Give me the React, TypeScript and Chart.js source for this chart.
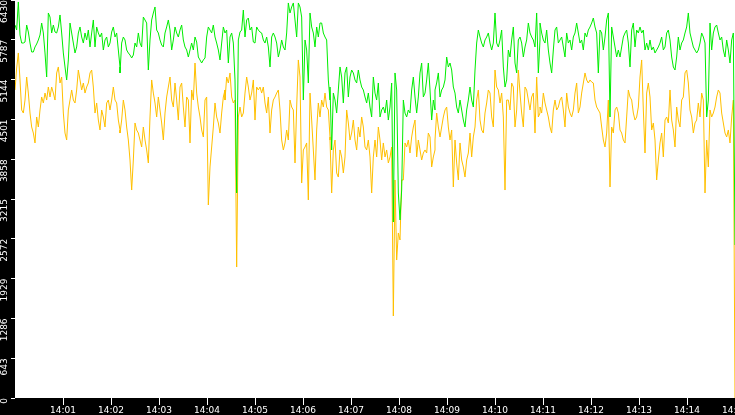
import React, { useEffect, useRef } from "react";
import { Chart, registerables } from "chart.js";

Chart.register(...registerables);

// Readings are sampled every 25/12 s; the trace is stored in 7 consecutive runs.
const START_HOUR = 14;
const RANGE_SECONDS = 900;
const SAMPLE_STEP_SECONDS = 25 / 12;
const RUN_START_SECONDS = [0, 131.25, 262.5, 393.75, 525, 656.25, 781.25];
const Y_TICK_STEP = 643;
const Y_MAX = 6430;

const greenA = [6026, 5945, 6398, 5865, 5735, 5735, 5751, 6026, 5913, 5735, 5590, 5590, 5671, 5719, 5784, 5865, 6058, 5897, 5574, 5186, 6220, 6155, 5897, 6026, 5913, 5897, 5994, 6188, 5897, 5574, 5348, 5138, 5461, 6058, 5897, 5735, 5574, 5671, 5897, 5994, 5832, 5735, 5897, 5784, 5945, 5671, 5897, 6107, 5671, 5994, 5897, 5832, 5897, 5622, 5784, 5832, 5671, 5735, 5913, 5994, 5832, 5897, 5622, 5348];
const greenB = [5251, 5735, 5832, 5784, 5622, 5574, 5541, 5493, 5541, 5735, 5671, 5897, 5735, 5671, 6155, 6107, 6058, 5299, 5784, 6107, 6220, 6317, 5945, 5897, 5784, 5703, 5671, 5897, 5994, 6107, 5945, 5622, 5784, 5994, 5897, 5832, 5945, 6026, 5784, 5671, 5622, 5509, 5622, 5735, 5622, 5832, 5751, 5509, 5461, 5412, 5461, 5493, 5832, 5994, 5945, 5897, 6026, 5832, 5735, 5622, 5461, 5735, 5994, 5897];
const greenC = [5897, 5945, 5412, 5832, 5897, 5735, 5138, 3312, 5784, 5913, 5945, 6268, 5832, 6107, 6139, 5945, 5994, 5751, 5735, 5994, 5945, 5913, 5897, 5784, 5735, 5832, 5671, 5348, 5832, 5897, 5832, 5735, 5509, 5622, 5784, 5671, 5622, 5897, 6382, 6220, 6317, 6382, 6107, 5832, 6382, 6317, 6155, 4814, 5784, 5622, 5089, 6220, 5994, 5897, 5671, 5994, 5832, 6058, 6058, 5897, 5832, 5784, 5138, 4814];
const greenD = [5024, 4007, 4927, 4814, 4604, 4976, 5348, 5186, 4766, 5251, 5348, 4863, 5186, 5299, 5251, 5138, 5089, 5299, 5138, 5024, 4976, 4863, 4766, 4927, 4701, 4540, 5186, 4927, 4814, 5089, 4540, 4653, 4701, 4604, 4814, 4491, 4701, 5089, 2843, 5251, 4976, 3312, 2876, 3360, 4814, 4604, 4540, 4653, 4604, 4976, 5186, 4863, 4604, 4863, 5251, 5412, 4863, 4927, 5138, 5412, 4976, 4491, 4814, 4653];
const greenE = [4976, 5089, 5251, 4863, 4976, 5024, 5138, 5509, 5348, 5412, 5299, 5024, 4927, 4701, 4604, 4814, 4653, 4491, 4378, 4653, 4814, 5024, 4814, 4701, 5299, 5735, 5945, 5832, 5735, 5671, 5784, 5832, 5897, 5735, 5622, 5735, 6220, 5735, 5671, 5784, 5945, 5348, 5024, 5138, 5622, 5509, 5784, 5994, 5412, 5251, 5784, 5832, 5735, 5509, 5671, 5784, 6058, 5897, 5832, 5784, 5671, 6220, 5251, 5784];
const greenF = [6058, 5897, 5784, 5735, 5945, 5622, 5412, 5251, 5622, 5945, 5994, 5735, 5784, 5832, 5671, 5509, 5897, 5735, 5784, 5622, 5832, 5897, 6058, 5897, 5735, 5784, 5622, 5897, 5832, 5945, 5994, 6058, 6139, 5994, 5897, 5251, 5945, 5897, 5622, 5832, 6107, 6220, 4540, 5994, 5832, 5671, 5509, 5622, 5509, 5671, 5832, 5897, 5945, 5735, 5348, 5945, 6058, 5671, 5945, 5897];
const greenG = [5994, 5897, 5945, 5622, 5735, 5622, 5784, 5622, 5671, 5574, 5622, 5671, 5735, 5832, 5622, 5671, 5897, 5945, 5784, 5509, 5348, 5299, 5509, 5832, 5622, 5735, 5784, 5897, 5994, 6220, 5897, 5784, 5671, 5622, 5574, 5622, 5735, 5897, 5832, 5735, 4540, 4814, 6058, 5622, 5897, 5994, 6026, 5897, 5784, 5832, 5622, 5509, 5784, 5622, 5412, 5784, 5897, 2472];

const yellowA = [4976, 5331, 5574, 5138, 4653, 4604, 4814, 5186, 4927, 4604, 4378, 4281, 4120, 4540, 4378, 4653, 4863, 4766, 4927, 4814, 5024, 4863, 5024, 4927, 4814, 5251, 5348, 5089, 5186, 4604, 4281, 4168, 4653, 4814, 4976, 4814, 4766, 4976, 5299, 5138, 4976, 5089, 4927, 5024, 5089, 5251, 5299, 5024, 4604, 4766, 4491, 4330, 4653, 4540, 4378, 4766, 4814, 4653, 4814, 5024, 4814, 4766, 4491, 4330];
const yellowB = [4281, 4491, 4814, 4653, 4378, 4168, 3845, 3360, 3845, 4443, 4330, 4281, 4168, 4055, 4378, 4168, 4007, 3797, 4540, 5138, 4927, 4766, 4540, 4863, 4653, 4443, 4168, 4604, 4863, 5024, 5186, 4814, 4701, 5089, 4814, 4491, 5024, 5089, 4701, 4378, 4863, 4814, 4120, 4976, 4814, 5412, 4927, 4701, 4540, 4330, 4217, 4814, 4863, 3118, 3732, 4055, 4378, 4766, 4540, 4443, 4281, 4604, 4863, 4976];
const yellowC = [4814, 5186, 5089, 5251, 4863, 4766, 4814, 2116, 4540, 4701, 4540, 4604, 4927, 5186, 5024, 4814, 4927, 5138, 4491, 5024, 4976, 5024, 4927, 5024, 4766, 4604, 4863, 4281, 4653, 4814, 4863, 4927, 4976, 4653, 4168, 4007, 4120, 4330, 4168, 4814, 4701, 4653, 3797, 4701, 5461, 5186, 3473, 4007, 4055, 4120, 3199, 4927, 4491, 4007, 3522, 4330, 4766, 4540, 4814, 4701, 4927, 4701, 4653, 4217];
const yellowD = [4168, 3312, 4007, 4168, 3635, 3570, 4007, 3894, 3635, 3894, 4653, 4443, 4168, 4281, 4491, 4168, 4007, 4378, 4217, 4540, 4378, 4055, 4007, 4168, 3894, 3312, 3894, 4168, 3894, 4378, 4168, 3845, 4120, 3894, 4007, 3797, 3894, 4055, 1325, 3522, 2229, 2666, 2553, 3522, 3522, 4120, 4055, 4168, 3958, 4217, 4378, 4491, 3894, 4168, 4007, 3845, 3958, 4007, 3958, 4281, 4217, 3732, 3894, 4007];
const yellowE = [4168, 4604, 4378, 4217, 4378, 4540, 4653, 4701, 4378, 4168, 4330, 3409, 4168, 3797, 3522, 4120, 3845, 3732, 3570, 3845, 3958, 4281, 3894, 4217, 4378, 4814, 4976, 4491, 4330, 4281, 4604, 4766, 4976, 4927, 4540, 4378, 5299, 5024, 4976, 4766, 4927, 4540, 3360, 4814, 4814, 4653, 5089, 5024, 4378, 4653, 5299, 4927, 4604, 4378, 5024, 4976, 4814, 4653, 4863, 4927, 4281, 5186, 4540, 4604];
const yellowF = [4701, 4604, 4927, 4766, 4653, 4540, 4378, 4281, 4653, 4814, 4653, 4701, 4814, 4863, 4653, 4378, 4927, 4701, 4604, 4540, 4653, 4927, 5089, 4604, 4701, 4927, 5089, 5251, 5138, 5089, 5138, 5105, 5089, 4814, 4701, 4653, 4604, 4378, 4168, 4055, 4281, 4814, 3409, 4378, 4281, 4653, 4701, 4604, 4330, 4281, 4168, 4120, 4540, 4976, 4863, 4814, 4604, 4491, 4540, 4701];
const yellowG = [5186, 5461, 4653, 3958, 4927, 5089, 4863, 4330, 4443, 4168, 3522, 3845, 4120, 4281, 3894, 4491, 4540, 4443, 4976, 4491, 4330, 4055, 4701, 4491, 4378, 4814, 4863, 5251, 5299, 5089, 4653, 4540, 4281, 4443, 4491, 4766, 4540, 4927, 4814, 3312, 4168, 3732, 4653, 4540, 4604, 4701, 4863, 4976, 4927, 4604, 4443, 4281, 4217, 4330, 4120, 4540, 4814, 0];

const greenRuns = [greenA, greenB, greenC, greenD, greenE, greenF, greenG];
const yellowRuns = [yellowA, yellowB, yellowC, yellowD, yellowE, yellowF, yellowG];

const GREEN = "#00ee00";
const YELLOW = "#ffc000";
const FONT = { family: "'DejaVu Sans', sans-serif", size: 9 };

const toPoints = (runs: number[][]) =>
  runs.flatMap((run, r) =>
    run.map((v, i) => ({ x: RUN_START_SECONDS[r] + i * SAMPLE_STEP_SECONDS, y: v }))
  );

const minuteLabel = (sec: number) => {
  const m = Math.round(sec / 60);
  return `${START_HOUR}:${String(m).padStart(2, "0")}`;
};

const backgroundPlugin = {
  id: "bgFill",
  beforeDraw(chart: any) {
    const { ctx, chartArea: a, width, height } = chart;
    ctx.save();
    ctx.fillStyle = "#000";
    ctx.fillRect(0, 0, width, height);
    ctx.fillStyle = "#fff";
    ctx.fillRect(a.left, a.top, a.right - a.left, a.bottom - a.top);
    ctx.restore();
  },
};

export default function App() {
  const ref = useRef<HTMLCanvasElement | null>(null);

  useEffect(() => {
    if (!ref.current) return;
    const chart = new Chart(ref.current, {
      type: "line",
      data: {
        datasets: [
          {
            data: toPoints(greenRuns),
            borderColor: GREEN,
            borderWidth: 1,
            pointRadius: 0,
            tension: 0,
            fill: false,
          },
          {
            data: toPoints(yellowRuns),
            borderColor: YELLOW,
            borderWidth: 1,
            pointRadius: 0,
            tension: 0,
            fill: false,
          },
        ],
      },
      options: {
        responsive: false,
        animation: false,
        devicePixelRatio: 1,
        layout: { padding: 0 },
        plugins: {
          legend: { display: false },
          tooltip: { enabled: false },
          title: { display: false },
        },
        scales: {
          x: {
            type: "linear",
            min: 0,
            max: RANGE_SECONDS,
            afterFit(s: any) {
              s.height = 17;
              s.paddingLeft = 0;
              s.paddingRight = 0;
            },
            ticks: {
              stepSize: 60,
              autoSkip: false,
              minRotation: 0,
              maxRotation: 0,
              color: "#fff",
              font: FONT,
              padding: 0,
              callback: (v: any) => (v === 0 ? "" : minuteLabel(Number(v))),
            },
            grid: {
              drawOnChartArea: false,
              tickLength: 7,
              color: (c: any) => (c.tick && c.tick.value === 0 ? "rgba(0,0,0,0)" : "#fff"),
            },
            border: { display: false },
          },
          y: {
            type: "linear",
            min: 0,
            max: Y_MAX,
            afterFit(s: any) {
              s.width = 15;
              s.paddingTop = 0;
              s.paddingBottom = 0;
            },
            ticks: {
              stepSize: Y_TICK_STEP,
              autoSkip: false,
              minRotation: 90,
              maxRotation: 90,
              color: "#fff",
              font: FONT,
              padding: 6,
              callback: (v: any) => String(v),
            },
            grid: {
              drawOnChartArea: false,
              tickLength: 4,
              color: "#fff",
            },
            border: { display: false },
          },
        },
      },
      plugins: [backgroundPlugin],
    } as any);
    return () => chart.destroy();
  }, []);

  return (
    <div style={{ position: "fixed", left: 0, top: 0, width: 735, height: 415, background: "#000" }}>
      <canvas ref={ref} width={735} height={415} style={{ display: "block", width: 735, height: 415 }} />
    </div>
  );
}
